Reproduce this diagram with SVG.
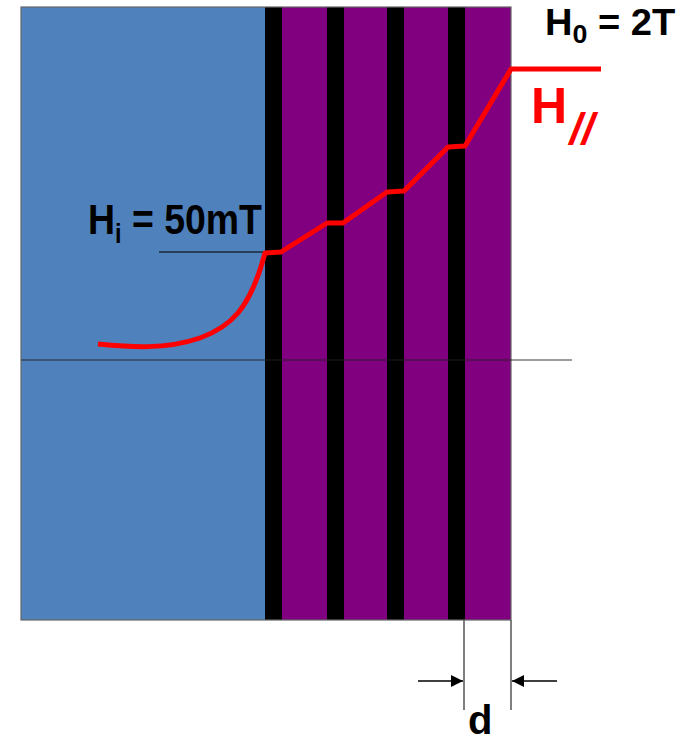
<svg xmlns="http://www.w3.org/2000/svg" width="687" height="742" viewBox="0 0 687 742">
<style>
.lbl{font-family:"Liberation Sans",Arial,sans-serif;font-weight:bold}
.stripe{fill:#000}
.layer{fill:#800080}
.dim{stroke:#555;stroke-width:1.5;fill:none}
</style>
<defs>
<marker id="ah2" viewBox="0 0 10 10" refX="10" refY="5" markerWidth="14" markerHeight="12" orient="auto" markerUnits="userSpaceOnUse">
<path d="M0,0 L10,5 L0,10 z" fill="#000"/>
</marker>
</defs>
<g id="substrate">
<rect x="21" y="7" width="244" height="613" fill="#4F81BD"/>
</g>
<g id="multilayer">
<rect x="265" y="7" width="246" height="613" class="layer"/>
<rect x="265" y="7" width="17" height="613" class="stripe"/>
<rect x="327" y="7" width="17" height="613" class="stripe"/>
<rect x="387" y="7" width="17" height="613" class="stripe"/>
<rect x="448" y="7" width="17" height="613" class="stripe"/>
</g>
<rect x="21" y="7" width="490" height="613" fill="none" stroke="#666" stroke-width="1.2"/>
<g id="connectors">
<line x1="21" y1="360" x2="572" y2="360" stroke="#222" stroke-opacity="0.6" stroke-width="1.5"/>
<line x1="159" y1="252" x2="265" y2="252" stroke="#1a2a3a" stroke-width="1.5"/>
<path d="M98,344 C130,347 165,350 200,338 C230,327 250,310 265,253 L281,252 L327,223 L343,223 L387,192 L404,191 L448,147 L465,146 L511,69 L601,69" fill="none" stroke="#FF0000" stroke-width="5" stroke-linejoin="round"/>
<line x1="464" y1="620" x2="464" y2="710" class="dim"/>
<line x1="511" y1="620" x2="511" y2="710" class="dim"/>
<line x1="418" y1="681" x2="463" y2="681" stroke="#000" stroke-width="1.5" marker-end="url(#ah2)"/>
<line x1="557" y1="681" x2="512" y2="681" stroke="#000" stroke-width="1.5" marker-end="url(#ah2)"/>
</g>
<g id="labels">
<text class="lbl" transform="translate(88,234) scale(0.87,1)" font-size="43" fill="#000">H<tspan font-size="27" dy="9">i</tspan><tspan dy="-9"> = 50mT</tspan></text>
<text class="lbl" transform="translate(545,35) scale(1.03,1)" font-size="37" fill="#000">H<tspan font-size="26" dy="8">0</tspan><tspan dy="-8"> = 2T</tspan></text>
<text class="lbl" x="531" y="123" font-size="50" fill="#FF0000">H</text>
<text class="lbl" x="576" y="144" font-size="44" fill="#FF0000" transform="skewX(-12)" style="transform-box:fill-box">//</text>
<text class="lbl" x="468" y="734" font-size="40" fill="#000">d</text>
</g>
</svg>
